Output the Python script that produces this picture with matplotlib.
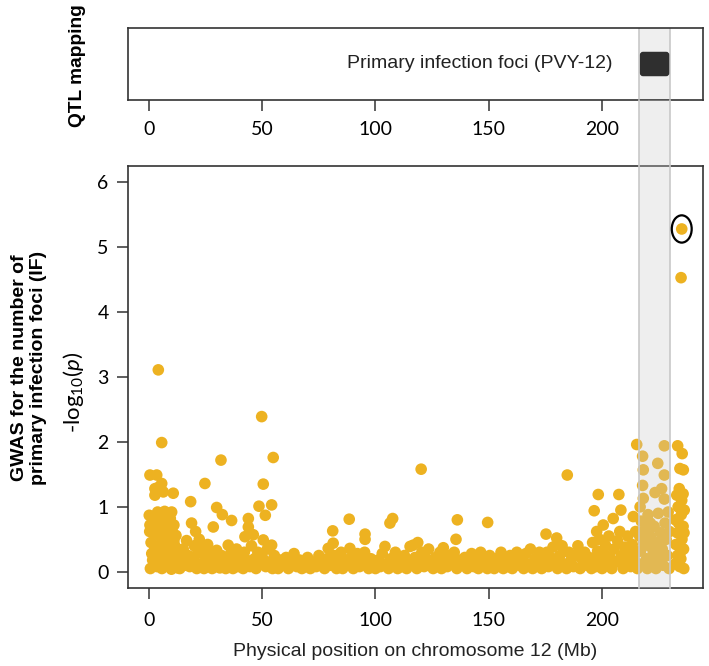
import matplotlib
matplotlib.use("Agg")
import matplotlib.pyplot as plt
import matplotlib.transforms as mtransforms
from matplotlib.patches import Rectangle, FancyBboxPatch, Ellipse
from matplotlib.lines import Line2D
import numpy as np

plt.rcParams['mathtext.fontset'] = 'custom'
plt.rcParams['mathtext.rm'] = 'Lato'
plt.rcParams['mathtext.it'] = 'Lato:italic'

pos_0_13 = [0.5, 1.5, 2.2, 0.8, 1.9, 0.3, 2.6, 3.4, 4.1, 3.8, 4.6, 3.2, 4.9, 5.6, 6.3, 5.8, 6.9, 5.2, 7.1, 6.5,
            7.8, 8.4, 7.6, 8.9, 8.1, 9.3, 9.8, 10.4, 9.7, 10.9, 10.2, 11.5, 12.1, 11.3, 12.6, 2.9, 1.1, 5.1, 7.3,
            9.1, 0.2, 1.4, 3.7, 6.8, 8.6, 10.9, 11.8, 12.9, 0.0, 9.9, 0.3, 3.3, 5.5, 2.5, 2.5, 10.6, 4.0, 6.2,
            4.0, 5.5]
lp_0_13 = [0.05, 0.18, 0.32, 0.45, 0.60, 0.72, 0.85, 0.08, 0.22, 0.40, 0.55, 0.68, 0.80, 0.05, 0.15, 0.30, 0.44,
           0.62, 0.72, 0.88, 0.10, 0.25, 0.38, 0.52, 0.66, 0.82, 0.04, 0.18, 0.35, 0.48, 0.62, 0.12, 0.28, 0.40,
           0.06, 0.12, 0.28, 0.12, 0.58, 0.12, 0.62, 0.82, 0.92, 0.93, 0.74, 0.72, 0.56, 0.20, 0.87, 0.92, 1.49,
           1.49, 1.36, 1.28, 1.18, 1.21, 1.30, 1.23, 3.11, 1.99]

pos_13_56 = [13.5, 14.2, 15.0, 15.8, 16.5, 17.2, 17.9, 18.3, 18.7, 19.4, 19.9, 20.5, 21.0, 21.3, 22.1, 22.8, 23.5,
             24.2, 24.6, 25.0, 25.8, 26.5, 27.1, 28.3, 27.8, 28.8, 29.8, 29.8, 30.5, 31.2, 31.7, 32.3, 32.0, 33.0,
             33.8, 34.9, 34.5, 35.5, 36.4, 36.2, 37.0, 37.8, 38.6, 39.2, 40.0, 40.8, 41.5, 42.3, 42.0, 43.0, 43.8,
             43.8, 44.5, 45.2, 46.0, 46.5, 47.2, 48.0, 48.5, 49.0, 49.7, 50.4, 50.4, 50.0, 51.3, 51.5, 52.2, 53.0,
             54.1, 54.1, 54.8, 54.5, 55.3, 56.0]
lp_13_56 = [0.05, 0.20, 0.35, 0.10, 0.48, 0.25, 0.08, 1.08, 0.75, 0.15, 0.40, 0.62, 0.05, 0.28, 0.50, 0.12, 0.35,
            0.05, 1.36, 0.22, 0.42, 0.10, 0.30, 0.69, 0.05, 0.18, 0.99, 0.33, 0.12, 0.06, 1.72, 0.88, 0.25, 0.15,
            0.05, 0.41, 0.20, 0.10, 0.79, 0.30, 0.05, 0.18, 0.35, 0.08, 0.25, 0.12, 0.05, 0.54, 0.30, 0.18, 0.82,
            0.69, 0.08, 0.40, 0.57, 0.20, 0.05, 0.30, 1.01, 0.12, 2.39, 1.35, 0.49, 0.22, 0.87, 0.08, 0.35, 0.15,
            1.03, 0.41, 1.76, 0.05, 0.25, 0.12]

pos_56_100 = [57.0, 58.0, 59.2, 60.5, 61.5, 62.8, 64.0, 65.2, 66.5, 67.5, 68.8, 70.0, 71.2, 72.5, 73.8, 75.0, 76.2,
              77.5, 78.5, 79.1, 80.0, 81.3, 81.1, 81.8, 82.8, 83.8, 84.8, 85.5, 86.5, 87.5, 88.4, 88.7, 89.2, 90.2,
              91.0, 92.0, 93.0, 94.0, 95.4, 95.4, 95.2, 96.0, 97.0, 98.0, 99.0, 100.0]
lp_56_100 = [0.05, 0.18, 0.10, 0.22, 0.05, 0.15, 0.28, 0.08, 0.18, 0.05, 0.12, 0.22, 0.05, 0.15, 0.08, 0.25, 0.12,
             0.05, 0.20, 0.36, 0.10, 0.44, 0.63, 0.25, 0.05, 0.15, 0.30, 0.05, 0.18, 0.10, 0.81, 0.36, 0.22, 0.05,
             0.15, 0.28, 0.08, 0.20, 0.58, 0.50, 0.30, 0.10, 0.05, 0.20, 0.12, 0.05]

pos_100_151 = [101.2, 102.2, 103.0, 104.2, 104.8, 105.8, 106.4, 107.6, 106.8, 107.8, 108.8, 109.8, 110.8, 111.8,
               112.8, 113.8, 114.5, 115.3, 116.7, 116.0, 117.5, 118.7, 118.3, 119.5, 120.2, 120.5, 121.5, 122.5,
               123.5, 124.5, 125.5, 126.5, 127.5, 128.5, 129.2, 130.0, 130.8, 131.8, 132.8, 133.8, 134.8, 135.6,
               136.2, 136.0, 137.0, 138.0, 139.5, 140.5, 141.5, 142.5, 143.5, 144.5, 145.5, 146.5, 147.5, 148.5,
               149.6, 149.5, 150.5]
lp_100_151 = [0.18, 0.08, 0.28, 0.39, 0.12, 0.05, 0.75, 0.82, 0.20, 0.10, 0.30, 0.05, 0.18, 0.08, 0.25, 0.05, 0.15,
              0.39, 0.41, 0.10, 0.22, 0.45, 0.05, 0.15, 1.58, 0.30, 0.08, 0.20, 0.35, 0.10, 0.05, 0.22, 0.12, 0.30,
              0.05, 0.37, 0.18, 0.08, 0.25, 0.12, 0.30, 0.50, 0.80, 0.05, 0.18, 0.10, 0.22, 0.05, 0.15, 0.28, 0.08,
              0.20, 0.05, 0.30, 0.12, 0.18, 0.76, 0.05, 0.25]

pos_151_196 = [151.5, 152.5, 153.5, 154.5, 155.5, 156.5, 157.5, 158.5, 159.5, 160.5, 161.5, 162.5, 163.5, 164.5,
               165.5, 166.5, 167.5, 168.5, 169.5, 170.5, 171.5, 172.5, 173.5, 174.5, 175.4, 175.8, 176.5, 177.5,
               178.5, 179.5, 180.1, 180.5, 181.5, 182.5, 183.5, 184.8, 184.5, 185.5, 186.5, 187.5, 188.5, 189.5,
               190.5, 191.5, 192.5, 193.5, 194.5, 195.5]
lp_151_196 = [0.10, 0.05, 0.20, 0.12, 0.30, 0.05, 0.18, 0.08, 0.25, 0.05, 0.15, 0.30, 0.10, 0.20, 0.05, 0.28, 0.12,
              0.35, 0.05, 0.20, 0.10, 0.30, 0.05, 0.18, 0.58, 0.30, 0.08, 0.22, 0.38, 0.12, 0.52, 0.05, 0.25, 0.40,
              0.12, 1.49, 0.05, 0.30, 0.18, 0.08, 0.25, 0.40, 0.05, 0.18, 0.30, 0.10, 0.22, 0.05]

pos_196_216 = [196.0, 196.7, 197.8, 198.5, 196.5, 197.5, 198.2, 199.0, 199.5, 200.2, 200.7, 201.0, 201.8, 202.5,
               203.2, 203.8, 204.5, 205.1, 205.5, 206.2, 207.0, 207.6, 208.5, 208.0, 208.8, 209.5, 210.2, 210.8,
               211.5, 212.2, 212.8, 213.5, 214.0, 214.2, 215.0, 215.5, 215.8]
lp_196_216 = [0.45, 0.94, 0.62, 1.19, 0.20, 0.08, 0.32, 0.50, 0.15, 0.05, 0.72, 0.28, 0.40, 0.12, 0.55, 0.22, 0.05,
              0.82, 0.35, 0.15, 0.48, 1.19, 0.95, 0.62, 0.25, 0.05, 0.38, 0.15, 0.55, 0.28, 0.08, 0.42, 0.85, 0.18,
              0.62, 0.30, 0.05]

pos_216_238 = [215.5, 218.1, 218.4, 218.1, 218.4, 217.0, 217.5, 216.8, 217.2, 216.5, 218.5, 219.2, 219.8, 220.2,
               220.5, 221.0, 221.5, 222.2, 222.8, 223.6, 223.2, 224.0, 224.8, 224.5, 225.0, 225.5, 226.0, 226.5,
               226.8, 227.7, 227.7, 227.7, 227.2, 228.0, 228.5, 229.0, 229.4, 229.8, 230.0, 221.5, 223.5,
               233.6, 235.6, 234.6, 236.1, 234.3, 235.4, 233.8, 235.2, 234.0, 236.0, 233.5, 235.5, 234.2, 236.2,
               233.5, 235.0, 234.5, 236.3, 232.5, 232.8, 236.5, 233.2, 236.0, 234.8, 236.4, 232.6, 235.1, 235.4]
lp_216_238 = [1.96, 1.78, 1.57, 1.33, 1.13, 1.00, 0.78, 0.55, 0.32, 0.12, 0.45, 0.65, 0.20, 0.05, 0.88, 0.40, 0.55,
              0.15, 0.30, 1.22, 0.70, 0.05, 1.67, 0.45, 0.90, 0.22, 0.60, 1.28, 0.35, 1.94, 1.49, 1.12, 0.10, 0.75,
              0.50, 0.25, 0.92, 0.05, 0.62, 0.75, 0.20,
              1.94, 1.82, 1.59, 1.57, 1.28, 1.10, 1.00, 0.88, 0.75, 0.70, 0.60, 0.50, 0.40, 0.35, 0.25, 0.20, 0.08,
              0.05, 0.12, 0.42, 0.95, 1.18, 1.20, 0.30, 0.60, 0.80, 4.53, 5.28]

snp_pos = pos_0_13 + pos_13_56 + pos_56_100 + pos_100_151 + pos_151_196 + pos_196_216 + pos_216_238
snp_lp = lp_0_13 + lp_13_56 + lp_56_100 + lp_100_151 + lp_151_196 + lp_196_216 + lp_216_238

qtl_start, qtl_end = 216.6, 230.2
qtl_label = "Primary infection foci (PVY-12)"
top_hit = (235.4, 5.28)
xticks = [0, 50, 100, 150, 200]
yticks = [0, 1, 2, 3, 4, 5, 6]

dot_color = '#EDB221'
spine_color = '#333333'
tick_font = 'Lato'

fig = plt.figure(figsize=(7.09, 6.66), dpi=100)
ax_top = fig.add_axes([128 / 709, 1 - 100 / 666, 575 / 709, 72 / 666])
ax = fig.add_axes([128 / 709, 1 - 588 / 666, 575 / 709, 422 / 666])

for a in (ax_top, ax):
    a.set_xlim(-9.4, 244.8)
    a.set_xticks(xticks)
    for s in a.spines.values():
        s.set_color(spine_color)
        s.set_linewidth(1.2)
    a.tick_params(axis='both', direction='out', length=8, width=1.1, color=spine_color,
                  labelsize=14, pad=7)
ax.tick_params(axis='x', pad=9)
ax.tick_params(axis='y', pad=6)

# top panel: QTL
ax_top.set_ylim(0, 1)
ax_top.set_yticks([])
ax_top.axvspan(qtl_start, qtl_end, facecolor='#efefef', edgecolor='none', zorder=0)
for xv in (qtl_start, qtl_end):
    ax_top.axvline(xv, color='#c8c8c8', lw=1.2, zorder=0.5)
box = FancyBboxPatch((qtl_start + 0.3, 0.33), qtl_end - qtl_start - 0.6, 0.34,
                     boxstyle='round,pad=0,rounding_size=1.4', mutation_aspect=0.03,
                     facecolor='#2f2f2f', edgecolor='none', zorder=2)
ax_top.add_patch(box)
ax_top.text(qtl_start - 12, 0.5, qtl_label, ha='right', va='center', fontsize=14,
            family='Liberation Sans', color='#222222')

# bottom panel: GWAS scatter
ax.set_ylim(-0.25, 6.25)
ax.set_yticks(yticks)
ax.scatter(snp_pos, snp_lp, s=70, color=dot_color, edgecolors='none', zorder=2)

for a in (ax_top, ax):
    for lab in a.get_xticklabels() + a.get_yticklabels():
        lab.set_family(tick_font)

trans = mtransforms.blended_transform_factory(ax.transData, ax.transAxes)
ax.add_patch(Rectangle((qtl_start, 0), qtl_end - qtl_start, 488 / 422, transform=trans, clip_on=False,
                       facecolor=(0.79, 0.79, 0.79, 0.3), edgecolor='none', zorder=3))
for xv in (qtl_start, qtl_end):
    ax.add_line(Line2D([xv, xv], [0, 488 / 422], transform=trans, clip_on=False, color='#c8c8c8',
                       lw=1.2, zorder=3))
ax.add_patch(Ellipse(top_hit, 8.8, 0.42, facecolor='none', edgecolor='black', lw=1.6, zorder=4))

fig.text(415 / 709, 1 - 651 / 666, 'Physical position on chromosome 12 (Mb)', ha='center', va='center',
         fontsize=14, family='Liberation Sans', color='#222222')
fig.text(77 / 709, 1 - 66 / 666, 'QTL mapping', rotation=90, ha='center', va='center', fontsize=13.8,
         family='Liberation Sans', fontweight='bold')
fig.text(29 / 709, 1 - 368 / 666, 'GWAS for the number of\nprimary infection foci (IF)', rotation=90,
         ha='center', va='center', fontsize=14, family='Liberation Sans', fontweight='bold',
         linespacing=1.15)
fig.text(73 / 709, 1 - 392 / 666, r'-log$_{10}$($\mathit{p}$)', rotation=90, ha='center', va='center',
         fontsize=16, family='Lato')

fig.savefig('out.png', dpi=100)
